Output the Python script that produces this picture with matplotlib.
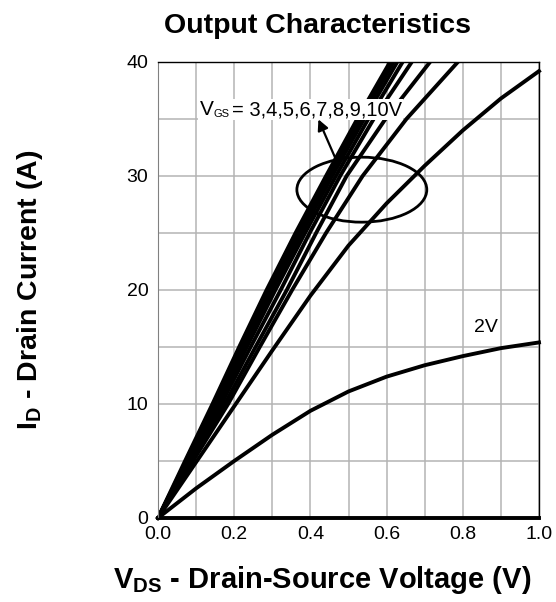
import numpy as np
import matplotlib
matplotlib.use('Agg')
from matplotlib import pyplot as plt
from matplotlib.patches import Ellipse
from matplotlib.ticker import MultipleLocator

plt.rcParams['font.family'] = ['Liberation Sans', 'DejaVu Sans']
plt.rcParams['mathtext.fontset'] = 'custom'
plt.rcParams['mathtext.rm'] = 'Liberation Sans'
plt.rcParams['mathtext.bf'] = 'Liberation Sans:bold'

# current levels (A) at which V_DS was read for the steep curves
i_levels = [0, 5, 10, 15, 20, 25, 30, 35, 40]
v_10v = [0, 0.071, 0.143, 0.213, 0.285, 0.361, 0.441, 0.523, 0.609]
v_9v = [0, 0.074, 0.148, 0.219, 0.292, 0.369, 0.449, 0.532, 0.618]
v_8v = [0, 0.076, 0.153, 0.225, 0.299, 0.377, 0.457, 0.541, 0.628]
v_7v = [0, 0.080, 0.160, 0.233, 0.308, 0.386, 0.467, 0.552, 0.642]
v_6v = [0, 0.083, 0.166, 0.243, 0.322, 0.398, 0.478, 0.566, 0.666]
v_5v = [0, 0.087, 0.175, 0.256, 0.338, 0.415, 0.495, 0.597, 0.714]
v_4v = [0, 0.092, 0.184, 0.267, 0.352, 0.441, 0.537, 0.652, 0.787]

# voltage levels (V) at which I_D was read for the flatter curves
v_levels = [0, 0.1, 0.2, 0.3, 0.4, 0.5, 0.6, 0.7, 0.8, 0.9, 1.0]
i_3v = [0, 4.9, 9.8, 14.7, 19.5, 23.9, 27.6, 30.9, 34.0, 36.8, 39.2]
i_2v = [0, 2.6, 5.0, 7.3, 9.4, 11.1, 12.4, 13.4, 14.2, 14.9, 15.4]
i_1v = [0, 0, 0, 0, 0, 0, 0, 0, 0, 0, 0]


def main():
	fig = plt.figure(figsize=(5.56, 6.02), dpi=100)
	ax = fig.add_axes([158/556, 1-518/602, (539-158)/556, (518-62)/602])

	lw = 2.8
	for v in [v_10v, v_9v, v_8v, v_7v, v_6v, v_5v, v_4v]:
		ax.plot(v, i_levels, color='black', lw=lw)
	for i in [i_3v, i_2v, i_1v]:
		ax.plot(v_levels, i, color='black', lw=lw, clip_on=False)

	ax.set_xlim(0, 1)
	ax.set_ylim(0, 40)
	ax.xaxis.set_major_locator(MultipleLocator(0.2))
	ax.xaxis.set_minor_locator(MultipleLocator(0.1))
	ax.yaxis.set_major_locator(MultipleLocator(10))
	ax.yaxis.set_minor_locator(MultipleLocator(5))
	ax.xaxis.set_major_formatter(lambda x, pos: f'{x:.1f}')
	ax.grid(which='both', color='#b4b4b4', lw=1.1)
	ax.set_axisbelow(True)
	ax.tick_params(which='both', length=0, labelsize=14)
	ax.tick_params(axis='x', pad=6)
	ax.tick_params(axis='y', pad=7)
	for s in ['top', 'right']:
		ax.spines[s].set_color('black')
		ax.spines[s].set_linewidth(1)
	ax.spines['left'].set_color('#808080')
	ax.spines['bottom'].set_color('black')
	ax.spines['bottom'].set_linewidth(1)

	ax.add_patch(Ellipse((0.535, 28.8), 0.341, 5.7, fill=False, ec='black', lw=2))
	ax.annotate('', xy=(0.421, 34.97), xytext=(0.465, 31.6),
		arrowprops=dict(arrowstyle='-|>', color='black', lw=1.6, mutation_scale=16,
			shrinkA=0, shrinkB=0))

	# V_GS label, written in three pieces so the subscript can be small
	box = dict(fc='white', ec='none', pad=1)
	ax.text(0.110, 35.35, 'V', fontsize=15, ha='left', va='baseline', bbox=box)
	ax.text(0.146, 35.15, 'GS', fontsize=8, ha='left', va='baseline', bbox=box)
	ax.text(0.193, 35.35, '= 3,4,5,6,7,8,9,10V', fontsize=14.5,
		ha='left', va='baseline', bbox=box)
	ax.text(0.862, 16.7, '2V', fontsize=14, ha='center', va='center')

	fig.text(318/556, 1-33.3/602, 'Output Characteristics', fontsize=20.5,
		fontweight='bold', ha='center', va='baseline')
	fig.text(321.7/556, 1-588/602, r'$\mathbf{V_{DS}}$ - Drain-Source Voltage (V)',
		fontsize=21, fontweight='bold', ha='center', va='baseline')
	fig.text(30/556, 1-290/602, r'$\mathbf{I_{D}}$ - Drain Current (A)',
		fontsize=20.5, fontweight='bold', ha='center', va='center', rotation=90)

	fig.savefig('out.png', dpi=100)


main()
